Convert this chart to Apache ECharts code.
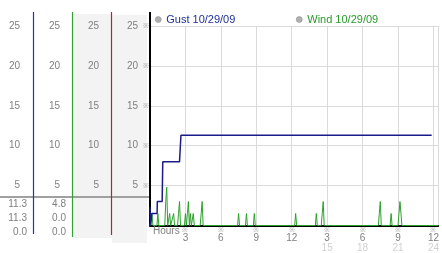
<!DOCTYPE html>
<html>
<head>
<meta charset="utf-8">
<script src="https://cdn.jsdelivr.net/npm/echarts@6/dist/echarts.min.js"></script>
<style>html,body{margin:0;padding:0;background:#fff}#c{width:442px;height:253px}</style>
</head>
<body>
<div id="c"></div>
<script>
// ---- data ----
const gustName = 'Gust 10/29/09';
const windName = 'Wind 10/29/09';
const gustHours  = [0, 0.06, 0.13, 0.15, 0.6, 0.62, 1.03, 1.08, 2.5, 2.62, 23.85];
const gustValues = [2.3, 0, 0, 1.5, 1.5, 3.0, 3.0, 8.0, 8.0, 11.3, 11.3];
const windMinutes = [0,5,10,15, 35,40,45, 75,80,85,90, 95,100,105, 115,120,125, 140,145,150,155,
  175,180,185,190,195,200,205,210, 215,220,225, 255,260,265,270, 445,450,455, 485,490,495,
  525,530,535, 735,740,745, 840,845,850, 870,875,880,885, 1160,1165,1170,1175, 1220,1225,1230,
  1260,1265,1270,1275,1280, 1465];
const windValues  = [0,0,1.5,0, 0,1.5,0, 0,3.0,4.8,0, 0,1.5,0, 0,1.5,0, 0,1.5,3.0,0,
  0,1.5,0,1.5,3.0,0,1.5,0, 0,1.5,0, 0,1.5,3.0,0, 0,1.5,0, 0,1.5,0,
  0,1.5,0, 0,1.5,0, 0,1.5,0, 0,1.5,3.0,0, 0,1.5,3.0,0, 0,1.5,0,
  0,1.5,3.0,1.5,0, 0];
const yTicks = [5, 10, 15, 20, 25];
const xTop    = ['3','6','9','12','3','6','9','12'];
const xBottom = ['','','','','15','18','21','24'];
const gustReadout = ['11.3', '11.3', '0.0'];
const windReadout = ['4.8', '0.0', '0.0'];

// ---- chart ----
const FONT = '"Liberation Sans", Arial, sans-serif';
const gustData = gustHours.map((h, i) => [h, gustValues[i]]);
const windData = windMinutes.map((m, i) => [m / 60, windValues[i]]);

function colAxis(offset) {
  return {
    type: 'value', position: 'left', offset: offset, min: 0, max: 25, interval: 5,
    axisLine: {show: false}, axisTick: {show: false}, splitLine: {show: false},
    axisLabel: {margin: 0, color: '#808080', fontSize: 10, fontFamily: FONT,
      formatter: v => yTicks.indexOf(v) >= 0 ? String(v) : ''}
  };
}

const graphics = [
  {type: 'rect', shape: {x: 72, y: 14, width: 40, height: 224}, style: {fill: '#f3f3f3'}, z: -10},
  {type: 'rect', shape: {x: 112, y: 15, width: 35, height: 228}, style: {fill: '#f3f3f3'}, z: -10},
  {type: 'line', shape: {x1: 33.5, y1: 12, x2: 33.5, y2: 234}, style: {stroke: '#1f3a9e', lineWidth: 1.2}, z: 50},
  {type: 'line', shape: {x1: 72.5, y1: 12, x2: 72.5, y2: 237}, style: {stroke: '#35a035', lineWidth: 1.2}, z: 50},
  {type: 'line', shape: {x1: 111.5, y1: 12, x2: 111.5, y2: 235}, style: {stroke: '#b02828', lineWidth: 1.2}, z: 50},
  {type: 'line', shape: {x1: 150, y1: 12, x2: 150, y2: 27}, style: {stroke: '#000', lineWidth: 2}, z: 50},
  {type: 'line', shape: {x1: 0, y1: 197, x2: 149, y2: 197}, style: {stroke: '#a0a0a0', lineWidth: 2}, z: 40},
  {type: 'text', left: 153, top: 226, style: {text: 'Hours', fill: '#808080', font: '10px ' + FONT}, z: 50}
];
const rowsY = [204.5, 218.5, 232];
gustReadout.forEach((t, i) => graphics.push({type: 'text', x: 27, y: rowsY[i], z: 50,
  style: {text: t, fill: '#808080', font: '10px ' + FONT, align: 'right', verticalAlign: 'middle'}}));
windReadout.forEach((t, i) => graphics.push({type: 'text', x: 66, y: rowsY[i], z: 50,
  style: {text: t, fill: '#808080', font: '10px ' + FONT, align: 'right', verticalAlign: 'middle'}}));

const chart = echarts.init(document.getElementById('c'), null, {renderer: 'canvas'});
chart.setOption({
  animation: false,
  backgroundColor: '#fff',
  textStyle: {fontFamily: FONT},
  legend: [
    {data: [{name: gustName, textStyle: {color: '#1f2f9a'}}], left: 155, top: 14, padding: 0,
     icon: 'circle', itemWidth: 6, itemHeight: 6, selectedMode: false,
     itemStyle: {color: '#b0b0b0', borderColor: '#888', borderWidth: 0.5},
     textStyle: {fontSize: 11, fontFamily: FONT}},
    {data: [{name: windName, textStyle: {color: '#2a9a2a'}}], left: 296, top: 14, padding: 0,
     icon: 'circle', itemWidth: 6, itemHeight: 6, selectedMode: false,
     itemStyle: {color: '#b0b0b0', borderColor: '#888', borderWidth: 0.5},
     textStyle: {fontSize: 11, fontFamily: FONT}}
  ],
  grid: {left: 150, top: 26, right: 1, bottom: 27.5, containLabel: false},
  xAxis: {
    type: 'value', min: 0, max: 24.4, interval: 3,
    axisLine: {lineStyle: {color: '#000', width: 2}},
    axisTick: {show: false},
    splitLine: {show: true, lineStyle: {color: '#dadada', width: 1}},
    axisLabel: {
      margin: 1, showMinLabel: true, showMaxLabel: true,
      formatter: function (v) {
        if (v === 0 || v % 3 !== 0 || v > 24) return '';
        const i = v / 3 - 1;
        let s = '{m|※}\n{n|' + xTop[i] + '}';
        if (xBottom[i]) s += '\n{s|' + xBottom[i] + '}';
        return s;
      },
      rich: {
        m: {fontSize: 7, lineHeight: 7, color: '#999'},
        n: {fontSize: 10, lineHeight: 9, color: '#808080', fontFamily: FONT},
        s: {fontSize: 10, lineHeight: 11, color: '#d0d0d0', fontFamily: FONT}
      }
    }
  },
  yAxis: [
    {type: 'value', position: 'left', min: 0, max: 25, interval: 5,
     axisLine: {show: true, lineStyle: {color: '#000', width: 2}},
     axisTick: {show: false},
     splitLine: {show: true, lineStyle: {color: '#dadada', width: 1}},
     axisLabel: {margin: 1, fontSize: 7, color: '#999', formatter: v => yTicks.indexOf(v) >= 0 ? '※' : ''}},
    colAxis(12), colAxis(51), colAxis(90), colAxis(130)
  ],
  graphic: graphics,
  series: [
    {name: windName, type: 'line', data: windData, showSymbol: false, symbol: 'none',
     lineStyle: {color: '#2ca02c', width: 1}, itemStyle: {color: '#2ca02c'}, z: 2},
    {name: gustName, type: 'line', data: gustData, showSymbol: false, symbol: 'none',
     lineStyle: {color: '#1a1a8a', width: 1.5}, itemStyle: {color: '#1a1a8a'}, z: 3}
  ]
});
</script>
</body>
</html>
